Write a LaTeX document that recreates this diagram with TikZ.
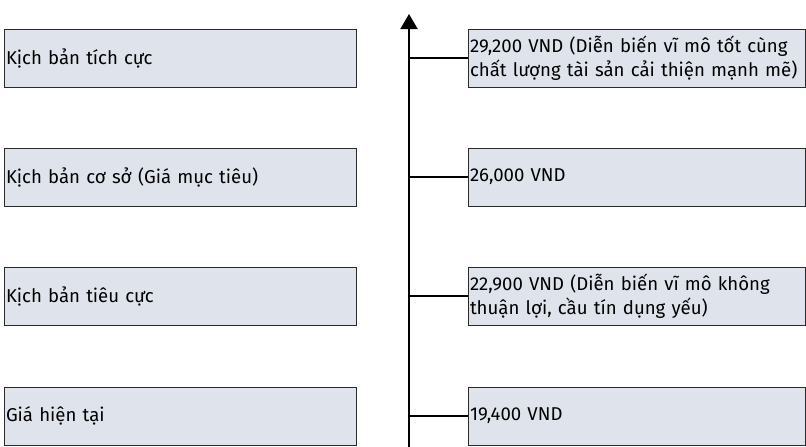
\documentclass[tikz,border=0pt]{standalone}
\usepackage{fontspec}
\setmainfont{Fira Sans}[WordSpace=0.7]
\usetikzlibrary{arrows.meta}

\definecolor{boxfill}{HTML}{DFE4EC}
\definecolor{boxline}{HTML}{2B2B2B}

\begin{document}
\begin{tikzpicture}[x=1pt,y=-1pt,
 case box/.style={rectangle,draw=boxline,fill=boxfill,line width=1pt,
  minimum height=58pt,inner xsep=2pt,inner ysep=0pt,align=left,
  font=\fontsize{18.6}{24.5}\selectfont},
 left box/.style={case box,text width=348pt},
 right box/.style={case box,text width=333pt},
 axis/.style={line width=2pt,-{Triangle[width=17pt,length=15pt]}}]

  \useasboundingbox (0,0) rectangle (806,447);

  \node[left box] (l1) at (180,58) {Kịch bản tích cực};
  \node[left box] (l2) at (180,177) {Kịch bản cơ sở (Giá mục tiêu)};
  \node[left box] (l3) at (180,296) {Kịch bản tiêu cực};
  \node[left box] (l4) at (180,416) {Giá hiện tại};

  \node[right box] (r1) at (636.5,58) {29,200 VND (Diễn biến vĩ mô tốt cùng\\chất lượng tài sản cải thiện mạnh mẽ)};
  \node[right box] (r2) at (636.5,177) {26,000 VND};
  \node[right box] (r3) at (636.5,296) {22,900 VND (Diễn biến vĩ mô không\\thuận lợi, cầu tín dụng yếu)};
  \node[right box] (r4) at (636.5,416) {19,400 VND};

  \coordinate (bot) at (409,447);
  \coordinate (top) at (409,14);
  \draw[axis] (bot) -- (top);

  \foreach \n in {r1,r2,r3,r4} {
   \draw[line width=1.6pt] (\n.west -| top) -- (\n.west);}
\end{tikzpicture}
\end{document}
